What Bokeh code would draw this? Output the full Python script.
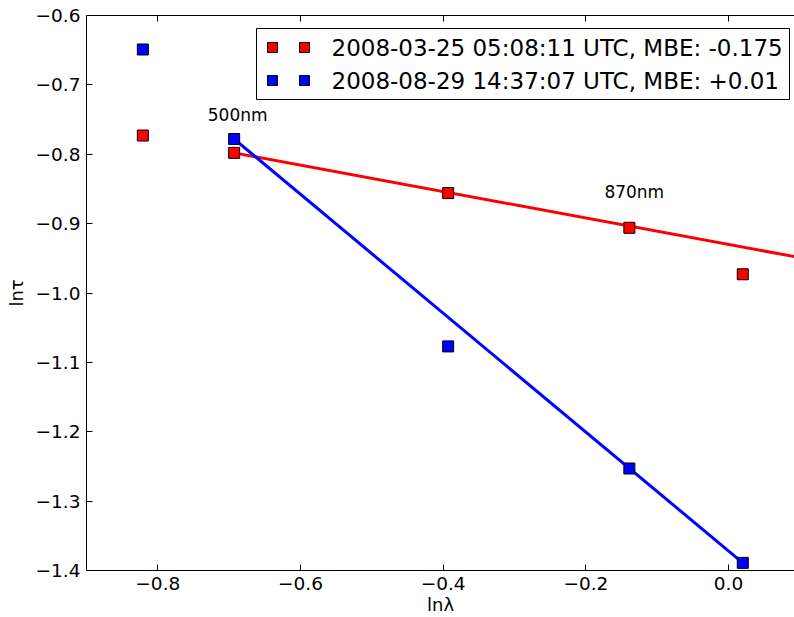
from bokeh.plotting import figure
from bokeh.models import LinearAxis, FixedTicker, Range1d, Label, BoxAnnotation
from bokeh.embed import file_html
from bokeh.resources import INLINE

# ---- data ----
ln_lambda = [-0.821, -0.693, -0.393, -0.139, 0.020]
march_ln_tau = [-0.773, -0.798, -0.856, -0.906, -0.973]
august_ln_tau = [-0.649, -0.778, -1.077, -1.253, -1.389]

march_fit_x = [-0.693, 0.100]
march_fit_y = [-0.798, -0.949]
august_fit_x = [-0.693, 0.020]
august_fit_y = [-0.778, -1.389]

series_labels = ["2008-03-25 05:08:11 UTC, MBE: -0.175",
                 "2008-08-29 14:37:07 UTC, MBE: +0.01"]
series_colors = ["#ff0000", "#0000ff"]

annot_text = ["500nm", "870nm"]
annot_x = [-0.730, -0.174]
annot_y = [-0.744, -0.855]

x_ticks = [-0.8, -0.6, -0.4, -0.2, 0.0]
x_tick_labels = ["\u22120.8", "\u22120.6", "\u22120.4", "\u22120.2", "0.0"]
y_ticks = [-1.4, -1.3, -1.2, -1.1, -1.0, -0.9, -0.8, -0.7, -0.6]
y_tick_labels = ["\u22121.4", "\u22121.3", "\u22121.2", "\u22121.1", "\u22121.0",
                 "\u22120.9", "\u22120.8", "\u22120.7", "\u22120.6"]

FONT = "DejaVu Sans"

p = figure(width=794, height=617, output_backend="svg", toolbar_location=None,
           x_range=Range1d(-0.9, 0.0925), y_range=Range1d(-1.4, -0.6),
           min_border_left=86, min_border_right=0, min_border_top=15,
           min_border_bottom=0)
p.grid.visible = False
p.outline_line_color = None
p.background_fill_color = "white"
p.border_fill_color = "white"

def style_axis(ax, ticks, labels, show_labels=True):
    ax.ticker = FixedTicker(ticks=ticks)
    ax.major_label_overrides = dict(zip(ticks, labels))
    ax.minor_tick_line_color = None
    ax.major_tick_in = 6
    ax.major_tick_out = 0
    ax.axis_line_color = "black"
    ax.axis_line_width = 1
    ax.major_tick_line_color = "black"
    ax.major_label_text_font = FONT
    ax.major_label_text_color = "black"
    if show_labels:
        ax.major_label_text_font_size = "18.5px"
        ax.major_label_standoff = 6
    else:
        ax.major_label_text_font_size = "0px"
        ax.major_label_standoff = 0
    ax.axis_label_text_font = FONT
    ax.axis_label_text_font_size = "18px"
    ax.axis_label_text_font_style = "normal"
    ax.axis_label_text_color = "black"

xax = p.xaxis[0]
style_axis(xax, x_ticks, x_tick_labels)
xax.axis_label = "ln\u03bb"
xax.axis_label_standoff = 1

yax = p.yaxis[0]
style_axis(yax, y_ticks, y_tick_labels)
yax.axis_label = "ln\u03c4"
yax.axis_label_standoff = 6

top = LinearAxis()
style_axis(top, x_ticks, ["" for _ in x_ticks], show_labels=False)
p.add_layout(top, "above")

# fit lines
p.line(march_fit_x, march_fit_y, line_color=series_colors[0], line_width=3)
p.line(august_fit_x, august_fit_y, line_color=series_colors[1], line_width=3)

# points
p.scatter(ln_lambda, march_ln_tau, marker="square", size=11,
          fill_color=series_colors[0], line_color="black", line_width=1)
p.scatter(ln_lambda, august_ln_tau, marker="square", size=11,
          fill_color=series_colors[1], line_color="black", line_width=1)

for t, ax_, ay_ in zip(annot_text, annot_x, annot_y):
    p.add_layout(Label(x=ax_, y=ay_, text=t, text_font=FONT,
                       text_font_size="17px", text_color="black",
                       text_baseline="alphabetic"))

# legend (matplotlib style, two markers per entry), screen units within frame
p.add_layout(BoxAnnotation(left=170, right=703, bottom=471, top=542,
                           left_units="screen", right_units="screen",
                           bottom_units="screen", top_units="screen",
                           fill_color="white", fill_alpha=1.0,
                           line_color="black", line_width=1, line_alpha=1.0))
row_y = [523, 490]
for i, (lab, col) in enumerate(zip(series_labels, series_colors)):
    cy = row_y[i]
    for cx in (186, 218):
        p.add_layout(BoxAnnotation(left=cx - 5, right=cx + 5, bottom=cy - 5, top=cy + 5,
                                   left_units="screen", right_units="screen",
                                   bottom_units="screen", top_units="screen",
                                   fill_color=col, fill_alpha=1.0,
                                   line_color="black", line_width=1, line_alpha=1.0))
    p.add_layout(Label(x=245, y=cy, x_units="screen", y_units="screen", text=lab,
                       text_font=FONT, text_font_size="23px", text_color="black",
                       text_baseline="middle"))

open("out.html", "w").write(file_html(p, INLINE))
